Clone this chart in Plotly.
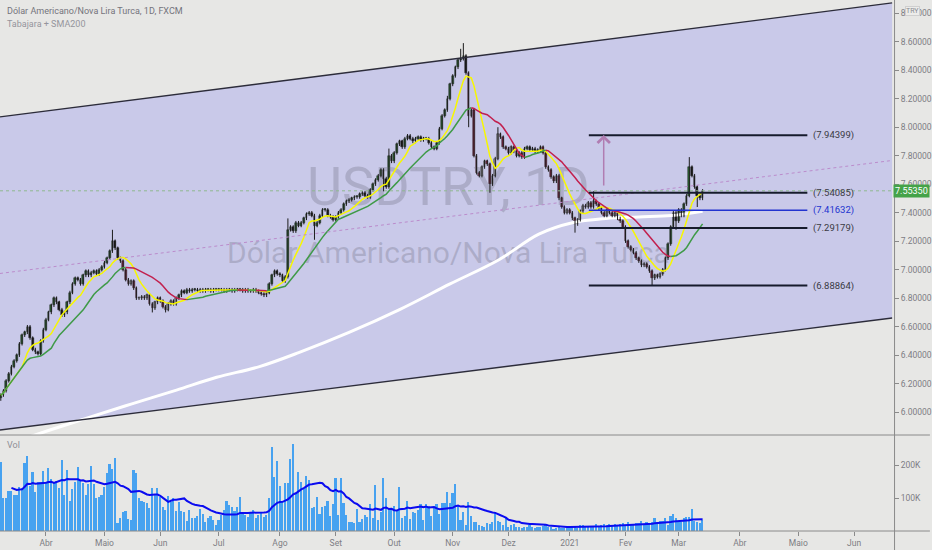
import numpy as np
import pandas as pd
import plotly.graph_objects as go

# ---------------- data ----------------
START_DATE = "2020-03-09"
AXIS_END_DATE = "2021-06-30"

close_mar20 = [6.12, 6.15, 6.22, 6.27, 6.32, 6.36, 6.40, 6.48, 6.54, 6.56, 6.60, 6.52, 6.44, 6.42, 6.41, 6.50, 6.58]
close_apr20 = [6.65, 6.70, 6.75, 6.80, 6.77, 6.72, 6.68, 6.70, 6.77, 6.84, 6.90, 6.94, 6.93, 6.90, 6.96, 6.99, 6.96, 6.98, 6.99, 6.97, 7.00, 7.02]
close_may20 = [7.05, 7.08, 7.13, 7.20, 7.15, 7.08, 7.06, 7.00, 6.93, 6.90, 6.92, 6.87, 6.80, 6.80, 6.81, 6.80, 6.82, 6.76, 6.73, 6.77, 6.80]
close_jun20 = [6.78, 6.74, 6.72, 6.76, 6.78, 6.76, 6.80, 6.82, 6.85, 6.84, 6.86, 6.85, 6.86, 6.86, 6.85, 6.86, 6.85, 6.86, 6.86, 6.85, 6.86, 6.86]
close_jul20 = [6.86, 6.86, 6.85, 6.86, 6.86, 6.85, 6.86, 6.86, 6.86, 6.85, 6.86, 6.85, 6.85, 6.86, 6.85, 6.84, 6.83, 6.82, 6.84, 6.90, 6.96, 6.99, 6.97]
close_aug20 = [6.96, 6.92, 6.95, 7.28, 7.30, 7.27, 7.33, 7.31, 7.33, 7.36, 7.39, 7.40, 7.38, 7.31, 7.33, 7.38, 7.42, 7.42, 7.38, 7.37, 7.35]
close_sep20 = [7.37, 7.40, 7.42, 7.46, 7.48, 7.49, 7.50, 7.51, 7.51, 7.53, 7.54, 7.52, 7.51, 7.56, 7.60, 7.63, 7.66, 7.70, 7.64, 7.58, 7.80, 7.76]
close_oct20 = [7.82, 7.88, 7.90, 7.86, 7.92, 7.94, 7.92, 7.90, 7.92, 7.93, 7.91, 7.92, 7.92, 7.89, 7.86, 7.85, 7.89, 7.99, 8.08, 8.12, 8.20, 8.30]
close_nov20 = [8.36, 8.42, 8.47, 8.48, 8.50, 8.38, 8.08, 8.12, 7.80, 7.68, 7.66, 7.72, 7.76, 7.74, 7.60, 7.66, 7.78, 7.95, 7.93, 7.86, 7.85]
close_dec20 = [7.82, 7.86, 7.83, 7.80, 7.82, 7.79, 7.85, 7.86, 7.84, 7.85, 7.83, 7.84, 7.86, 7.82, 7.72, 7.70, 7.65, 7.62, 7.66, 7.50, 7.44, 7.40, 7.42]
close_jan21 = [7.40, 7.36, 7.32, 7.35, 7.41, 7.45, 7.44, 7.47, 7.44, 7.48, 7.46, 7.43, 7.40, 7.38, 7.42, 7.40, 7.38, 7.40, 7.36, 7.34, 7.30]
close_feb21 = [7.20, 7.16, 7.14, 7.12, 7.08, 7.06, 7.03, 7.04, 7.02, 6.99, 6.94, 6.96, 6.95, 6.97, 7.00, 7.08, 7.18, 7.30, 7.40, 7.34]
close_mar21 = [7.42, 7.38, 7.46, 7.52, 7.72, 7.66, 7.58, 7.52, 7.50, 7.5535]
first_open = 6.10

high_spikes = {42: 7.28, 108: 7.36, 146: 7.85, 168: 8.22, 173: 8.55, 174: 8.59, 187: 8.00, 223: 7.55, 259: 7.79}
low_spikes = {0: 6.08, 57: 6.70, 62: 6.70, 118: 7.21, 144: 7.55, 176: 8.00, 184: 7.54, 216: 7.26, 245: 6.89, 254: 7.28, 262: 7.44}
wick = 0.012

volume_k = [
    210, 100, 100, 122, 122, 109, 109, 134, 130, 207,
    227, 136, 179, 119, 149, 149, 182, 145, 191, 157,
    149, 151, 130, 215, 109, 185, 90, 127, 149, 195,
    152, 145, 109, 143, 197, 143, 100, 102, 109, 134,
    176, 203, 188, 221, 25, 39, 58, 61, 36, 33,
    185, 177, 99, 92, 89, 86, 71, 130, 109, 130,
    104, 74, 64, 106, 89, 99, 62, 89, 61, 58,
    31, 64, 38, 38, 45, 67, 52, 26, 40, 45,
    33, 18, 33, 50, 64, 90, 78, 74, 61, 74,
    103, 55, 48, 42, 55, 64, 39, 48, 55, 42,
    48, 100, 255, 164, 213, 136, 89, 145, 145, 218,
    264, 115, 180, 149, 127, 167, 155, 70, 72, 103,
    52, 73, 76, 91, 45, 82, 161, 48, 161, 86,
    48, 28, 28, 25, 68, 28, 36, 48, 42, 82,
    39, 139, 33, 58, 161, 100, 70, 64, 76, 64,
    133, 39, 45, 91, 36, 58, 55, 64, 82, 32,
    83, 76, 45, 74, 82, 52, 85, 85, 118, 86,
    115, 142, 76, 33, 58, 18, 89, 45, 28, 28,
    18, 15, 13, 24, 22, 28, 58, 30, 28, 18,
    38, 13, 18, 21, 13, 13, 10, 11, 13, 18,
    13, 10, 13, 13, 15, 18, 13, 11, 7, 10,
    11, 10, 10, 13, 10, 13, 13, 10, 18, 18,
    15, 13, 15, 13, 21, 15, 18, 21, 18, 21,
    18, 21, 18, 21, 25, 18, 28, 21, 18, 23,
    25, 31, 21, 28, 23, 28, 39, 28, 31, 31,
    39, 18, 45, 52, 38, 28, 28, 38, 41, 41,
    67, 31, 28, 25, 34,
]

sma200_idx = [0, 18.5, 33.5, 49.6, 66.1, 81.2, 97.3, 112.3, 131, 150, 169, 187.4, 202.4, 215, 227.6, 240, 252.3, 264]
sma200_val = [5.76, 5.875, 5.965, 6.06, 6.155, 6.245, 6.32, 6.42, 6.56, 6.72, 6.90, 7.07, 7.25, 7.33, 7.36, 7.37, 7.38, 7.41]

month_labels = ["Abr", "Maio", "Jun", "Jul", "Ago", "Set", "Out", "Nov", "Dez", "2021", "Fev", "Mar", "Abr", "Maio", "Jun"]
price_ticks = [6.0, 6.2, 6.4, 6.6, 6.8, 7.0, 7.2, 7.4, 7.6, 7.8, 8.0, 8.2, 8.4, 8.6, 8.8]
vol_ticks_k = [100, 200]

levels = [7.94399, 7.54085, 7.41632, 7.29179, 6.88864]
level_span = [221.2, 303.4]
last_price = 7.55350
channel_x = [-0.3, 335.3]
channel_upper = [8.072, 8.872]
channel_lower = [5.875, 6.661]
arrow_x = 226.8
arrow_from, arrow_to = 7.58, 7.946

title_text = "Dólar Americano/Nova Lira Turca, 1D, FXCM"
study_text = "Tabajara + SMA200"
watermark_big = "USDTRY, 1D"
watermark_small = "Dólar Americano/Nova Lira Turca"

# ---------------- derived series ----------------
closes = np.array(close_mar20 + close_apr20 + close_may20 + close_jun20 + close_jul20 + close_aug20 +
                  close_sep20 + close_oct20 + close_nov20 + close_dec20 + close_jan21 + close_feb21 + close_mar21)
n = len(closes)
x = np.arange(n)
opens = np.concatenate([[first_open], closes[:-1]])
highs = np.maximum(opens, closes) + wick
lows = np.minimum(opens, closes) - wick
for k, v in high_spikes.items():
    highs[k] = max(highs[k], v)
for k, v in low_spikes.items():
    lows[k] = min(lows[k], v)

ma9 = pd.Series(closes).rolling(9, min_periods=1).mean().values
ma20 = pd.Series(closes).rolling(20, min_periods=1).mean().values
rising = np.concatenate([[True], np.diff(ma20) >= 0])

green_y, red_y = [], []
for i in range(n):
    nxt_r = rising[i + 1] if i + 1 < n else rising[i]
    green_y.append(ma20[i] if (rising[i] or nxt_r) else None)
    red_y.append(ma20[i] if ((not rising[i]) or (not nxt_r)) else None)

body_colors = []
for o, c, m in zip(opens, closes, ma20):
    if c >= o:
        body_colors.append("#2f6f37" if c >= m else "#a3a3a8")
    else:
        body_colors.append("#141414" if c >= m else "#8a2447")

wx, wy = [], []
for i in range(n):
    wx += [i, i, None]
    wy += [lows[i], highs[i], None]

vol = np.array(volume_k) * 1000.0
vol_ma = pd.Series(vol).rolling(20, min_periods=5).mean().values

all_days = pd.bdate_range(START_DATE, AXIS_END_DATE)
month_starts = [i for i in range(1, len(all_days)) if all_days[i].month != all_days[i - 1].month]

# ---------------- figure ----------------
FONT = "Liberation Sans Narrow, Roboto, sans-serif"
BG = "#e7e7e5"
AXC = "#8a8a8a"
TXT = "#7d7d84"
XR = [-0.3, 336.0]
PRICE_R = [5.840, 8.8926]
SPLIT = 96 / 531

fig = go.Figure()

fig.add_trace(go.Scatter(x=[168.4, 168.4], y=[7.552, 7.103], mode="text",
                         text=[watermark_big, watermark_small],
                         textfont=dict(family=FONT, size=[54, 30], color="rgba(118,118,138,0.34)"),
                         textposition="middle center", hoverinfo="skip", xaxis="x", yaxis="y"))

fig.add_trace(go.Scatter(x=sma200_idx, y=sma200_val, mode="lines", line=dict(color="#ffffff", width=3, shape="spline"),
                         hoverinfo="skip", xaxis="x", yaxis="y"))

fig.add_trace(go.Scatter(x=wx, y=wy, mode="lines", line=dict(color="#1c1c1c", width=1),
                         hoverinfo="skip", xaxis="x", yaxis="y"))
fig.add_trace(go.Bar(x=x, y=np.maximum(np.abs(closes - opens), 0.004), base=np.minimum(opens, closes),
                     width=0.62, marker=dict(color=body_colors, line=dict(color="#1c1c1c", width=0.5)),
                     hoverinfo="skip", xaxis="x", yaxis="y"))

fig.add_trace(go.Scatter(x=x, y=ma9, mode="lines", line=dict(color="#f7f700", width=1.5),
                         hoverinfo="skip", xaxis="x", yaxis="y"))
fig.add_trace(go.Scatter(x=x, y=green_y, mode="lines", line=dict(color="#3f9a48", width=1.5),
                         connectgaps=False, hoverinfo="skip", xaxis="x", yaxis="y"))
fig.add_trace(go.Scatter(x=x, y=red_y, mode="lines", line=dict(color="#c2204e", width=1.5),
                         connectgaps=False, hoverinfo="skip", xaxis="x", yaxis="y"))

fig.add_trace(go.Bar(x=x, y=vol, width=0.62, marker=dict(color="#47a2f0", line=dict(width=0)),
                     hoverinfo="skip", xaxis="x2", yaxis="y2"))
fig.add_trace(go.Scatter(x=x, y=vol_ma, mode="lines", line=dict(color="#0b0bf0", width=2),
                         hoverinfo="skip", xaxis="x2", yaxis="y2"))

shapes = []
cx0, cx1 = channel_x
shapes.append(dict(type="path", xref="x", yref="y", layer="below",
                   path=f"M{cx0},{channel_upper[0]} L{cx1},{channel_upper[1]} L{cx1},{channel_lower[1]} L{cx0},{channel_lower[0]} Z",
                   fillcolor="#c9c9e9", line=dict(width=0)))
for ys in (channel_upper, channel_lower):
    shapes.append(dict(type="line", xref="x", yref="y", x0=cx0, x1=cx1, y0=ys[0], y1=ys[1],
                       line=dict(color="#2c2c3a", width=1.3)))
shapes.append(dict(type="line", xref="x", yref="y", x0=cx0, x1=cx1,
                   y0=(channel_upper[0] + channel_lower[0]) / 2, y1=(channel_upper[1] + channel_lower[1]) / 2,
                   line=dict(color="#bb8ccc", width=1, dash="dot")))
shapes.append(dict(type="line", xref="paper", yref="y", x0=0, x1=1, y0=last_price, y1=last_price,
                   line=dict(color="#8fb88f", width=1, dash="dot")))
for lv in levels:
    blue = abs(lv - 7.41632) < 1e-6
    shapes.append(dict(type="line", xref="x", yref="y", x0=level_span[0], x1=level_span[1], y0=lv, y1=lv,
                       line=dict(color="#2233d0" if blue else "#161b2c", width=1.5 if blue else 2)))
# pane frame lines
shapes.append(dict(type="line", xref="paper", yref="paper", x0=0, x1=932 / 896, y0=SPLIT, y1=SPLIT,
                   line=dict(color=AXC, width=1)))
shapes.append(dict(type="line", xref="paper", yref="paper", x0=0, x1=932 / 896, y0=0, y1=0,
                   line=dict(color=AXC, width=1)))
shapes.append(dict(type="line", xref="paper", yref="paper", x0=1.0006, x1=1.0006, y0=-19 / 531, y1=1,
                   line=dict(color=AXC, width=1)))

ann = []
ann.append(dict(xref="paper", yref="paper", x=5 / 896, y=1 - 11 / 531, text=title_text, showarrow=False,
                xanchor="left", yanchor="middle", font=dict(family=FONT, size=9, color="#74747c")))
ann.append(dict(xref="paper", yref="paper", x=5 / 896, y=1 - 24 / 531, text=study_text, showarrow=False,
                xanchor="left", yanchor="middle", font=dict(family=FONT, size=9, color="#95959c")))
ann.append(dict(xref="paper", yref="paper", x=5 / 896, y=1 - 445 / 531, text="Vol", showarrow=False,
                xanchor="left", yanchor="middle", font=dict(family=FONT, size=9, color="#8e8e95")))
for lv in levels:
    blue = abs(lv - 7.41632) < 1e-6
    ann.append(dict(xref="x", yref="y", x=level_span[1] + 1.4, y=lv, text=f"({lv:.5f})", showarrow=False,
                    xanchor="left", yanchor="middle",
                    font=dict(family=FONT, size=9.5, color="#2233d0" if blue else "#3a3a44")))
ann.append(dict(xref="x", yref="y", x=arrow_x, y=arrow_to, ax=arrow_x, ay=arrow_from, axref="x", ayref="y",
                showarrow=True, arrowhead=4, arrowsize=1.6, arrowwidth=1.5, arrowcolor="#b07db2", text=""))
ann.append(dict(xref="paper", yref="y", x=913.5 / 896, y=last_price, text=f"{last_price:.5f}", showarrow=False,
                xanchor="center", yanchor="middle", bgcolor="#45a349", borderpad=1,
                font=dict(family=FONT, size=9, color="#ffffff")))
ann.append(dict(xref="paper", yref="paper", x=915 / 896, y=1 - 11 / 531, text="TRY", showarrow=False,
                xanchor="center", yanchor="middle", bgcolor="#ececea", bordercolor="#cfcfcf", borderwidth=1,
                borderpad=0, font=dict(family=FONT, size=7, color="#8a8a90")))

TICKFONT = dict(family=FONT, size=8.5, color=TXT)
fig.update_layout(
    width=932, height=550, margin=dict(l=0, r=36, t=0, b=19),
    paper_bgcolor=BG, plot_bgcolor=BG, showlegend=False, barmode="overlay", bargap=0,
    shapes=shapes, annotations=ann, hovermode=False,
    xaxis=dict(domain=[0, 1], range=XR, anchor="y", showticklabels=False, showgrid=False, zeroline=False,
               showline=False, ticks=""),
    yaxis=dict(domain=[SPLIT, 1], range=PRICE_R, side="right", anchor="x", showgrid=False, zeroline=False,
               tickvals=price_ticks, ticktext=[f"{v:.5f}" for v in price_ticks], ticks="outside", ticklen=4,
               tickcolor=AXC, tickfont=TICKFONT, showline=False),
    xaxis2=dict(domain=[0, 1], range=XR, anchor="y2", matches="x", showgrid=False, zeroline=False,
                tickvals=month_starts, ticktext=month_labels, ticks="outside", ticklen=4, tickcolor=AXC,
                tickfont=TICKFONT, showline=False),
    yaxis2=dict(domain=[0, SPLIT], range=[0, 290900], side="right", anchor="x2", showgrid=False, zeroline=False,
                tickvals=[v * 1000 for v in vol_ticks_k], ticktext=[f"{v}K" for v in vol_ticks_k],
                ticks="outside", ticklen=4, tickcolor=AXC, tickfont=TICKFONT,
                showline=False),
)

fig.write_html("out.html", config={"displayModeBar": False},
               post_script="document.body.style.margin='0';document.body.style.overflow='hidden';")
